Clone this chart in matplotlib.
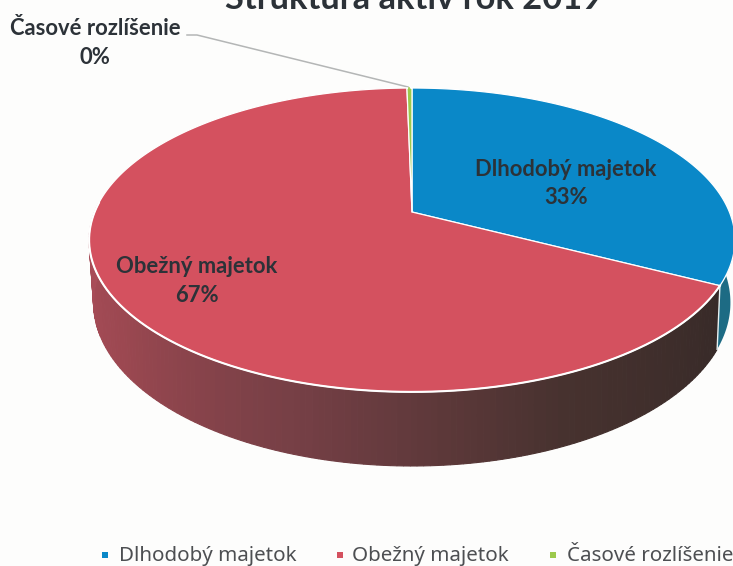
import numpy as np
import matplotlib
matplotlib.use("Agg")
import matplotlib.pyplot as plt
from matplotlib.colors import LinearSegmentedColormap

# data
categories = ['Dlhodobý majetok', 'Obežný majetok', 'Časové rozlíšenie']
shares = [32.6, 67.1, 0.3]
pct_labels = ['33%', '67%', '0%']
colors = ['#0a88c8', '#d4515f', '#9cc94c']
side_colors = ['#1d6b84', '#8a4650', '#7f9f45']

# perspective of the top and bottom disc, in pixels
CX, CY = 412, 212
A_TOP, B_TOP, K_TOP = 146.8, 317.4, 0.184
CY_BOT, A_BOT, B_BOT, K_BOT = 270, 156.8, 312.0, 0.2


def top_rim(t):
    u, v = np.sin(t), -np.cos(t)
    w = 1 - K_TOP * v
    return CX + B_TOP * u / w, CY + A_TOP * v / w


def bottom_rim(t):
    u, v = np.sin(t), -np.cos(t)
    w = 1 - K_BOT * v
    return CX + B_BOT * u / w, CY_BOT + A_BOT * v / w


fig = plt.figure(figsize=(7.33, 5.66), dpi=100, facecolor='#fdfdfc')
ax = fig.add_axes([0, 0, 1, 1])
ax.set_xlim(0, 733)
ax.set_ylim(566, 0)
ax.axis('off')

edges = np.cumsum([0] + shares) / sum(shares) * 2 * np.pi

# side of the pie, shaded from dark on the right to lighter on the left
shade = LinearSegmentedColormap.from_list('shade', ['#372a28', '#47322f', '#743f45', '#9c4851', '#ad4e5b'])
ts = np.linspace(edges[1], 1.52 * np.pi, 160)
for a, b in zip(ts[:-1], ts[1:]):
    xa, ya = top_rim(a)
    xb, yb = top_rim(b)
    xc, yc = bottom_rim(b)
    xd, yd = bottom_rim(a)
    frac = (a - ts[0]) / (ts[-1] - ts[0])
    ax.fill([xa, xb, xc, xd], [ya, yb, yc, yd], facecolor=shade(frac), edgecolor=shade(frac),
            lw=0.8, zorder=1)

ts = np.linspace(0.5 * np.pi, edges[1], 30)
xs = np.r_[top_rim(ts)[0], bottom_rim(ts[::-1])[0]]
ys = np.r_[top_rim(ts)[1], bottom_rim(ts[::-1])[1]]
ax.fill(xs, ys, color=side_colors[0], lw=0, zorder=2)
ax.plot(*[np.r_[p, q] for p, q in zip(top_rim(edges[1]), bottom_rim(edges[1]))],
        color='#e8f2f2', lw=1.0, zorder=3)

# top of the pie
for i in range(len(shares)):
    t = np.linspace(edges[i], edges[i + 1], 300)
    x, y = top_rim(t)
    ax.fill(np.r_[CX, x], np.r_[CY, y], facecolor=colors[i], edgecolor='white', lw=0.9,
            joinstyle='round', zorder=4)

# the thin slice would vanish under the white edge otherwise
x, y = top_rim(np.array([edges[2], edges[3]]))
ax.plot([x.mean(), x.mean()], [y.mean(), y.mean() + 3], color=colors[2], lw=1.2, zorder=5)

# rim highlight on the front
t = np.linspace(edges[1], 1.52 * np.pi, 200)
ax.plot(*top_rim(t), color='white', lw=1.5, zorder=5)

label_style = dict(family='Lato', fontweight='bold', color='#2c3238', fontsize=15.8,
                   ha='center', va='center', zorder=6, linespacing=1.42)
ax.text(566, 183.5, categories[0] + '\n' + pct_labels[0], **label_style)
ax.text(197, 281, categories[1] + '\n' + pct_labels[1], **label_style)
ax.text(95, 43, categories[2] + '\n' + pct_labels[2], **label_style)

# leader of the small slice
ax.plot([187, 197, 408], [35, 35, 87], color='#b4b6b6', lw=1.1, zorder=3)

# the scan cuts the title off at the top edge
ax.text(414, 9, 'Štruktúra aktív rok 2019', family='Lato', fontweight='bold', color='#2c3238',
        fontsize=24.8, ha='center', va='baseline', zorder=6)

# legend
legend_x = [105, 340, 553]
legend_text_x = [119, 352, 567]
for x, tx, name, col in zip(legend_x, legend_text_x, categories, colors):
    ax.plot(x, 555, marker='s', ms=4.6, color=col, mew=0, zorder=6)
    ax.text(tx, 556, name, family='Noto Sans', color='#4d4f52', fontsize=14.8,
            ha='left', va='center', zorder=6)

fig.savefig('out.png', dpi=100, facecolor=fig.get_facecolor())
